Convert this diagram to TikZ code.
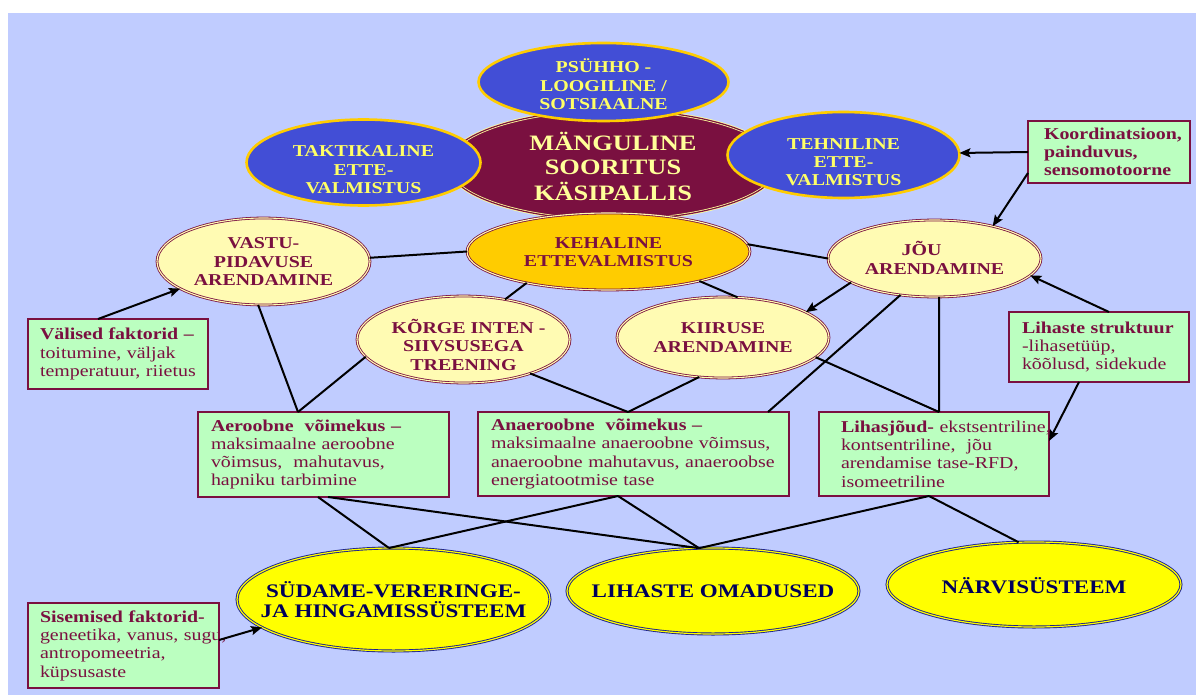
\documentclass[tikz,border=0pt]{standalone}
\usepackage{fontspec}
\setmainfont{Liberation Serif}[FakeStretch=1.2]
\usetikzlibrary{shapes.geometric,arrows.meta}

\definecolor{bgblue}{HTML}{C0CCFF}
\definecolor{royal}{HTML}{424ED6}
\definecolor{gold}{HTML}{FFCC00}
\definecolor{lemon}{HTML}{FFFF66}
\definecolor{cream}{HTML}{FFFF99}
\definecolor{wine}{HTML}{7A1040}
\definecolor{pale}{HTML}{FFFBB3}
\definecolor{mint}{HTML}{BBFFC0}
\definecolor{navyb}{HTML}{1A2090}
\definecolor{deepnavy}{HTML}{00005A}
\definecolor{sunny}{HTML}{FFFF00}

\newcommand{\bodybf}{\fontsize{16.6}{18.3}\selectfont\bfseries}
\newcommand{\bodyrm}{\fontsize{16.6}{18.3}\selectfont}
\newcommand{\bigbf}{\fontsize{19.2}{20.5}\selectfont\bfseries}
\newcommand{\titlebf}{\fontsize{22}{24.3}\selectfont\bfseries}
\newcommand{\oneline}[1]{\mbox{#1}}
% a centred stack of lines, set lower than the node centre by #1
\newcommand{\lowstack}[2]{\raisebox{-#1}[\height][\depth]{\begin{tabular}{@{}c@{}}#2\end{tabular}}}

\begin{document}
\begin{tikzpicture}[x=1pt,y=-1pt,
  ell/.style={ellipse, inner xsep=-60pt, inner ysep=-40pt, outer sep=0pt, align=center},
  tactic/.style={ell, fill=royal, draw=gold, line width=2.6pt, text=lemon, font=\bodybf},
  title/.style={ell, fill=wine, draw=cream, double=wine, line width=0.8pt, double distance=1.2pt, text=cream, font=\titlebf},
  wish/.style={ell, fill=pale, draw=wine, double=pale, line width=0.8pt, double distance=1.1pt, text=wine, font=\bodybf},
  core/.style={wish, fill=gold, double=pale},
  system/.style={ell, fill=sunny, draw=navyb, double=sunny, line width=0.9pt, double distance=1.2pt, text=deepnavy, font=\bigbf},
  info/.style={rectangle, fill=mint, draw=wine, line width=2pt, inner ysep=0pt, outer sep=0pt, align=left, text=wine, font=\bodyrm},
  conn/.style={draw=black, line width=2pt},
  arr/.style={conn, -{Stealth[length=11pt,width=9pt,inset=2pt]}}
]
\useasboundingbox (0,0) rectangle (1196,695);
\fill[white] (0,0) rectangle (1196,695);
\fill[bgblue] (8,13) rectangle (1196,695);

% central performance ellipse and its three companions
\node[title, minimum width=330pt, minimum height=110pt] (mang) at (613,165) {\lowstack{5pt}{MÄNGULINE\\SOORITUS\\KÄSIPALLIS}};
\node[tactic, minimum width=250pt, minimum height=78pt] (psy) at (603.5,82) {\lowstack{5pt}{PSÜHHO -\\LOOGILINE /\\SOTSIAALNE}};
\node[tactic, minimum width=234pt, minimum height=86pt] (takt) at (363.5,162.5) {\lowstack{9pt}{TAKTIKALINE\\ETTE-\\VALMISTUS}};
\node[tactic, minimum width=232pt, minimum height=86pt] (tehn) at (843.5,155) {\lowstack{9pt}{TEHNILINE\\ETTE-\\VALMISTUS}};

% physical preparation and its branches
\node[core, minimum width=283pt, minimum height=77pt] (keh) at (608.5,251.5) {\lowstack{2pt}{KEHALINE\\ETTEVALMISTUS}};
\node[wish, minimum width=213pt, minimum height=87pt] (vastu) at (263.5,261.5) {\lowstack{2pt}{VASTU-\\PIDAVUSE\\ARENDAMINE}};
\node[wish, minimum width=213pt, minimum height=77pt] (jou) at (934.5,258.5) {\lowstack{2pt}{JÕU\hspace*{26pt}\\ARENDAMINE}};
\node[wish, minimum width=213pt, minimum height=87pt] (korge) at (463.5,339.5) {\lowstack{8pt}{\hspace*{10pt}KÕRGE INTEN -\\SIIVSUSEGA\\TREENING}};
\node[wish, minimum width=212pt, minimum height=81pt] (kiir) at (723,337.5) {KIIRUSE\\ARENDAMINE};

% body systems
\node[system, minimum width=313pt, minimum height=103pt] (sud) at (393.5,599.5) {SÜDAME-VERERINGE-\\JA HINGAMISSÜSTEEM};
\node[system, minimum width=292pt, minimum height=86pt] (lih) at (713,591) {LIHASTE OMADUSED};
\node[system, minimum width=294pt, minimum height=85pt] (narv) at (1034,584.5) {\lowstack{4pt}{NÄRVISÜSTEEM}};

% explanation boxes
\node[info, font=\bodybf, inner xsep=16pt, text width=130pt, minimum height=62pt] (koord) at (1109,152)
  {\oneline{Koordinatsioon,}\\painduvus,\\sensomotoorne};
\node[info, inner xsep=12pt, text width=156pt, minimum height=70pt] (valised) at (118,354)
  {\oneline{\textbf{Välised faktorid –}}\\\oneline{toitumine, väljak}\\\oneline{temperatuur, riietus}};
\node[info, inner xsep=13pt, text width=154pt, minimum height=70pt] (lihst) at (1099,347)
  {\oneline{\textbf{Lihaste struktuur}}\\\oneline{-lihasetüüp,}\\\oneline{kõõlusd, sidekude}};
\node[info, inner xsep=13pt, text width=225pt, minimum height=85pt] (aero) at (323.5,454.5)
  {\oneline{\textbf{Aeroobne~ võimekus –}}\\\oneline{maksimaalne aeroobne}\\\oneline{võimsus,~ mahutavus,}\\\oneline{hapniku tarbimine}};
\node[info, inner xsep=13pt, text width=285pt, minimum height=84pt] (anae) at (633.5,454)
  {\oneline{\textbf{Anaeroobne~ võimekus –}}\\\oneline{maksimaalne anaeroobne võimsus,}\\\oneline{anaeroobne mahutavus, anaeroobse}\\\oneline{energiatootmise tase}};
\node[info, inner xsep=22pt, text width=186pt, minimum height=84pt] (lihasj) at (934,454)
  {\oneline{\textbf{Lihasjõud-} ekstsentriline,}\\\oneline{kontsentriline,~ jõu}\\\oneline{arendamise tase-RFD,}\\\oneline{isomeetriline}};
\node[info, inner xsep=12pt, text width=167pt, minimum height=85pt] (sisem) at (123.5,645.5)
  {\oneline{\textbf{Sisemised faktorid-}}\\\oneline{geneetika, vanus, sugu,}\\\oneline{antropomeetria,}\\\oneline{küpsusaste}};

% plain connectors
\draw[conn] (vastu.2) -- (keh.180);
\draw[conn] (keh.3) -- (jou.180);
\draw[conn] (keh.-159) -- (korge.44);
\draw[conn] (keh.-18) -- (kiir.70);
\draw[conn] (vastu.-97) -- ([xshift=-25.5pt]aero.north);
\draw[conn] (korge.-170) -- ([xshift=-25.5pt]aero.north);
\draw[conn] (korge.-27) -- ([xshift=-5.5pt]anae.north);
\draw[conn] (kiir.-121) -- ([xshift=-5.5pt]anae.north);
\draw[conn] (jou.-133) -- ([xshift=-21pt]anae.north east);
\draw[conn] (jou.-83) -- ([xshift=5pt]lihasj.north);
\draw[conn] (kiir.-12) -- ([xshift=5pt]lihasj.north);
\draw[conn] ([xshift=-5.5pt]aero.south) -- (sud.95);
\draw[conn] ([xshift=4.5pt]aero.south) -- (lih.108);
\draw[conn] ([xshift=-15.5pt]anae.south) -- (sud.95);
\draw[conn] ([xshift=-15.5pt]anae.south) -- (lih.108);
\draw[conn] ([xshift=-5pt]lihasj.south) -- (lih.108);
\draw[conn] ([xshift=-5pt]lihasj.south) -- (narv.110);

% arrows
\draw[arr] (jou.-164) -- (kiir.17);
\draw[arr] (koord.west) -- (tehn.1.5);
\draw[arr] ([yshift=10pt]koord.south west) -- (jou.29);
\draw[arr] ([xshift=-20pt]valised.north) -- (vastu.-162);
\draw[arr] ([xshift=10pt]lihst.north) -- (jou.-10);
\draw[arr] ([xshift=-20pt]lihst.south) -- ([yshift=13pt]lihasj.east);
\draw[arr] ([yshift=5.5pt]sisem.east) -- (sud.-168);
\end{tikzpicture}
\end{document}
